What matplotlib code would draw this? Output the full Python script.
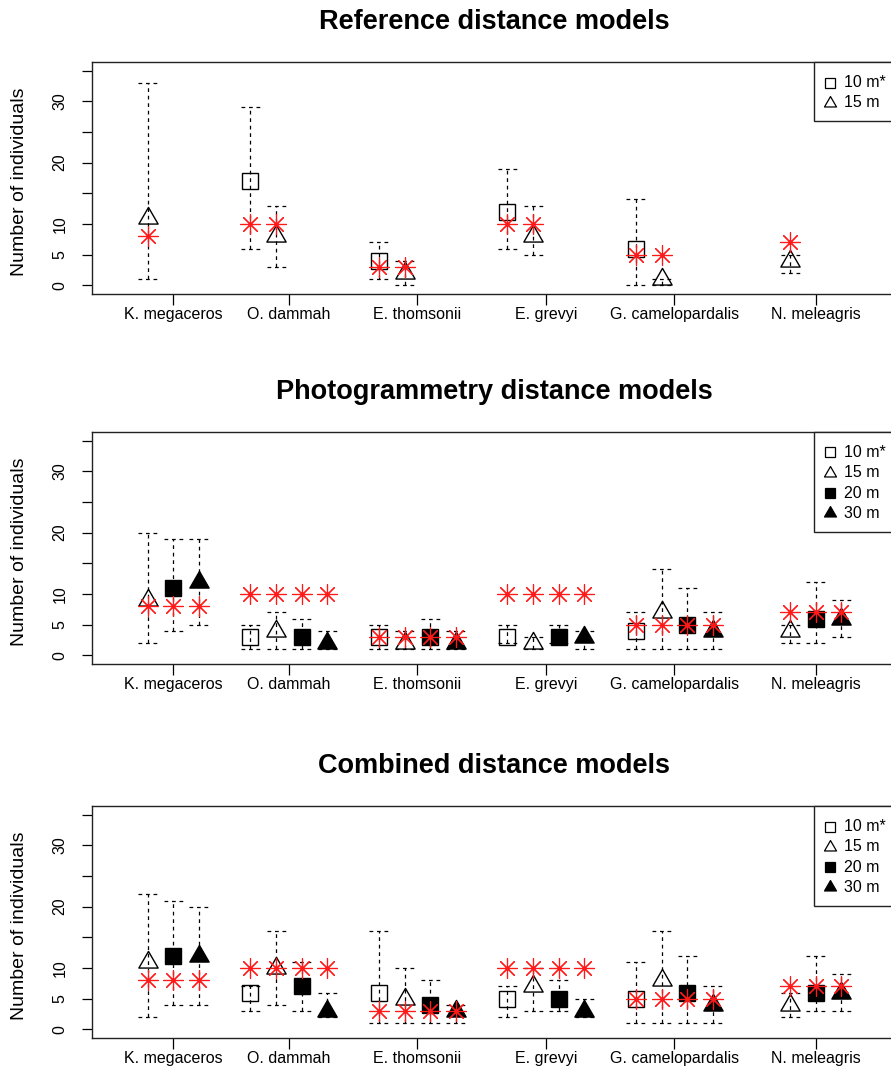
import numpy as np
import matplotlib
matplotlib.use('Agg')
import matplotlib.pyplot as plt
from matplotlib.path import Path
from matplotlib.patches import Rectangle

plt.rcParams['font.family'] = ['Liberation Sans', 'DejaVu Sans']

nan = np.nan

# ---------------- data ----------------
species = ["K. megaceros", "O. dammah", "E. thomsonii", "E. grevyi",
           "G. camelopardalis", "N. meleagris"]
distances = ["10 m*", "15 m", "20 m", "30 m"]
true_counts = [8, 10, 3, 10, 5, 7]
titles = ["Reference distance models", "Photogrammetry distance models",
          "Combined distance models"]

# Reference distance models
ref_est_10 = [nan, 17, 4, 12, 6, nan]
ref_lo_10 = [nan, 6, 1, 6, 0, nan]
ref_hi_10 = [nan, 29, 7, 19, 14, nan]
ref_est_15 = [11, 8, 2, 8, 1, 4]
ref_lo_15 = [1, 3, 0, 5, 0, 2]
ref_hi_15 = [33, 13, 4, 13, 1, 5]

# Photogrammetry distance models
ph_est_10 = [nan, 3, 3, 3, 4, nan]
ph_lo_10 = [nan, 1, 1, 2, 1, nan]
ph_hi_10 = [nan, 5, 5, 5, 7, nan]
ph_est_15 = [9, 4, 2, 2, 7, 4]
ph_lo_15 = [2, 1, 1, 1, 1, 2]
ph_hi_15 = [20, 7, 4, 3, 14, 5]
ph_est_20 = [11, 3, 3, 3, 5, 6]
ph_lo_20 = [4, 1, 1, 2, 1, 2]
ph_hi_20 = [19, 6, 6, 5, 11, 12]
ph_est_30 = [12, 2, 2, 3, 4, 6]
ph_lo_30 = [5, 1, 1, 1, 1, 3]
ph_hi_30 = [19, 4, 4, 4, 7, 9]

# Combined distance models
co_est_10 = [nan, 6, 6, 5, 5, nan]
co_lo_10 = [nan, 3, 1, 2, 1, nan]
co_hi_10 = [nan, 7, 16, 7, 11, nan]
co_est_15 = [11, 10, 5, 7, 8, 4]
co_lo_15 = [2, 4, 1, 3, 1, 2]
co_hi_15 = [22, 16, 10, 10, 16, 6]
co_est_20 = [12, 7, 4, 5, 6, 6]
co_lo_20 = [4, 3, 1, 3, 1, 3]
co_hi_20 = [21, 11, 8, 8, 12, 12]
co_est_30 = [12, 3, 3, 3, 4, 6]
co_lo_30 = [4, 2, 1, 2, 1, 3]
co_hi_30 = [20, 6, 4, 5, 7, 9]

panels = [
    {"10 m*": (ref_est_10, ref_lo_10, ref_hi_10),
     "15 m": (ref_est_15, ref_lo_15, ref_hi_15)},
    {"10 m*": (ph_est_10, ph_lo_10, ph_hi_10),
     "15 m": (ph_est_15, ph_lo_15, ph_hi_15),
     "20 m": (ph_est_20, ph_lo_20, ph_hi_20),
     "30 m": (ph_est_30, ph_lo_30, ph_hi_30)},
    {"10 m*": (co_est_10, co_lo_10, co_hi_10),
     "15 m": (co_est_15, co_lo_15, co_hi_15),
     "20 m": (co_est_20, co_lo_20, co_hi_20),
     "30 m": (co_est_30, co_lo_30, co_hi_30)},
]

# ---------------- styles ----------------
tri = Path([(0, 1.555), (1.347, -0.778), (-1.347, -0.778), (0, 1.555)],
           [Path.MOVETO, Path.LINETO, Path.LINETO, Path.CLOSEPOLY])
styles = {
    "10 m*": dict(marker='s', ms=11, mfc='none', mec='black'),
    "15 m": dict(marker=tri, ms=16, mfc='none', mec='black'),
    "20 m": dict(marker='s', ms=11, mfc='black', mec='black'),
    "30 m": dict(marker=tri, ms=16, mfc='black', mec='black'),
}
leg_styles = {
    "10 m*": dict(marker='s', ms=6.5, mfc='none', mec='black'),
    "15 m": dict(marker=tri, ms=10, mfc='none', mec='black'),
    "20 m": dict(marker='s', ms=6.5, mfc='black', mec='black'),
    "30 m": dict(marker=tri, ms=10, mfc='black', mec='black'),
}
dash = (0, (3, 3))
cap_half = 0.37
group_step = 5

# x positions: group * 5 + slot
slot_of = {d: i for i, d in enumerate(distances)}
tick_pos = []
for g in range(len(species)):
    used = []
    for p in panels:
        for d, (est, lo, hi) in p.items():
            if not np.isnan(est[g]):
                used.append(group_step * g + slot_of[d])
    used = sorted(set(used))
    tick_pos.append(np.mean(used))

# ---------------- figure ----------------
W, H = 891, 1082
fig = plt.figure(figsize=(W / 100, H / 100), dpi=100)
L, R = 92, 897
panel_px = [(62, 294), (432, 664), (806, 1038)]

for pi, (p, (T, B)) in enumerate(zip(panels, panel_px)):
    ax = fig.add_axes([L / W, 1 - B / H, (R - L) / W, (B - T) / H])
    ax.set_xlim(-1.16, 30.16)
    ax.set_ylim(-1.4, 36.4)

    for d, (est, lo, hi) in p.items():
        for g in range(len(species)):
            if np.isnan(est[g]):
                continue
            x = group_step * g + slot_of[d]
            ax.plot([x, x], [lo[g], hi[g]], color='black', lw=0.9,
                    linestyle=dash, zorder=2)
            for yv in (lo[g], hi[g]):
                ax.plot([x - cap_half, x + cap_half], [yv, yv], color='black',
                        lw=0.9, linestyle=dash, zorder=2)
            ax.plot([x], [est[g]], linestyle='none', mew=1.0, zorder=3,
                    **styles[d])
            ax.plot([x], [true_counts[g]], linestyle='none', marker=(8, 2, 0),
                    ms=14.5, color='#ff1a1a', mew=0.85, zorder=4)

    ax.set_xticks(tick_pos)
    ax.set_xticklabels(species)
    ax.set_yticks([0, 5, 10, 15, 20, 25, 30, 35])
    ax.set_yticklabels(['0', '5', '10', '', '20', '', '30', ''])
    ax.tick_params(axis='x', length=8, width=0.9, pad=1.5, labelsize=11.5)
    ax.tick_params(axis='y', length=7.5, width=0.9, pad=10, labelsize=11.5,
                   labelrotation=90)
    for lab in ax.get_yticklabels():
        lab.set_va('center')
    for s in ax.spines.values():
        s.set_linewidth(1.0)
        s.set_color('#222222')

    # titles and y label
    fig.text((L + R) / 2 / W, 1 - (T - 40) / H, titles[pi], ha='center',
             va='center', fontsize=19.5, fontweight='bold')
    fig.text(20 / W, 1 - ((T + B) / 2 + 4) / H, 'Number of individuals',
             rotation=90, ha='center', va='center', fontsize=14)

    # legend (manual, R-like)
    def ax_xy(px, py):
        return (px - L) / (R - L), (B - py) / (B - T)
    keys = list(p.keys())
    n = len(keys)
    row0, step = 20.5, 20.3
    box_bottom = T + row0 + (n - 1) * step + 18.5
    x0, y0 = ax_xy(814, box_bottom)
    x1, y1 = ax_xy(R, T)
    ax.add_patch(Rectangle((x0, y0), x1 - x0, y1 - y0, transform=ax.transAxes,
                           facecolor='white', edgecolor='#222222', lw=1.0,
                           clip_on=False, zorder=5))
    for i, d in enumerate(keys):
        py = T + row0 + i * step
        mx, my = ax_xy(830, py)
        ax.plot([mx], [my], transform=ax.transAxes, linestyle='none',
                mew=0.9, clip_on=False, zorder=6, **leg_styles[d])
        tx, ty = ax_xy(844, py)
        ax.text(tx, ty, d, transform=ax.transAxes, ha='left', va='center',
                fontsize=11.5, zorder=6)

fig.savefig('out.png', dpi=100)
